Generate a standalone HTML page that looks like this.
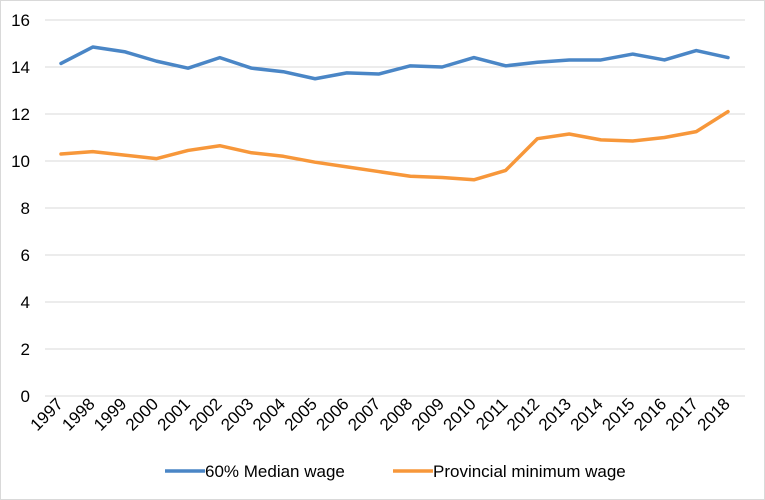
<!DOCTYPE html>
<html><head><meta charset="utf-8"><style>
body{margin:0;background:#fff}
svg{display:block;font-family:"Liberation Sans",sans-serif}
</style></head><body>
<svg id="c" width="765" height="500">
<rect x="0.5" y="0.5" width="764" height="499" fill="#fff" stroke="#d9d9d9"/>
</svg>
<script>
const years=["1997","1998","1999","2000","2001","2002","2003","2004","2005","2006","2007","2008","2009","2010","2011","2012","2013","2014","2015","2016","2017","2018"];
const medianWage=[14.15,14.85,14.65,14.25,13.95,14.4,13.95,13.8,13.5,13.75,13.7,14.05,14.0,14.4,14.05,14.2,14.3,14.3,14.55,14.3,14.7,14.4];
const minWage=[10.3,10.4,10.25,10.1,10.45,10.65,10.35,10.2,9.95,9.75,9.55,9.35,9.3,9.2,9.6,10.95,11.15,10.9,10.85,11.0,11.25,12.1];
const yTicks=[0,2,4,6,8,10,12,14,16];
const NS="http://www.w3.org/2000/svg";
const svg=document.getElementById('c');
const L=45,R=745,T=20,B=396;
const x=i=>61+i*(728-61)/(years.length-1);
const y=v=>B-(v/16)*(B-T);
function mk(t,a,p){const e=document.createElementNS(NS,t);for(const k in a)e.setAttribute(k,a[k]);(p||svg).appendChild(e);return e;}
yTicks.forEach(v=>{
 const g=mk('line',{x1:L,x2:R,y1:y(v),y2:y(v),stroke:'#d9d9d9','stroke-width':1});
 
 
 const t=mk('text',{x:30,y:y(v)+6,'text-anchor':'end','font-size':17,fill:'#000'});
 t.textContent=v;
 
 
});
years.forEach((yr,i)=>{
 const t=mk('text',{transform:`translate(${x(i)+3},${B+9}) rotate(-45)`,'text-anchor':'end','font-size':17,fill:'#000'});
 t.textContent=yr;
 
 
});
function series(vals,color,name){
 const p=mk('polyline',{points:vals.map((v,i)=>x(i)+','+y(v)).join(' '),fill:'none',stroke:color,'stroke-width':3.5,'stroke-linejoin':'round','stroke-linecap':'round'});
 
 
}
series(medianWage,'#4a86c6','median-wage-line');
series(minWage,'#f7973a','minimum-wage-line');
[[165,'#4a86c6','60% Median wage','legend-median-wage'],[393,'#f7973a','Provincial minimum wage','legend-minimum-wage']].forEach(([lx,c,txt,n])=>{
 const g=mk('g',{});
 
 
 mk('line',{x1:lx,x2:lx+40,y1:471,y2:471,stroke:c,'stroke-width':3.5},g);
 const t=mk('text',{x:lx+40,y:477,'font-size':17,fill:'#000'},g);t.textContent=txt;
});
</script>
</body></html>
